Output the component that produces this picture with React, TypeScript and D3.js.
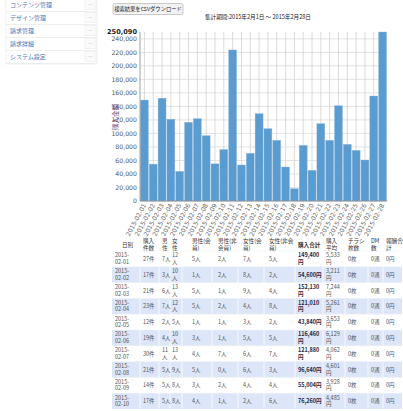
import * as d3 from "d3";

const menuItems = ["コンテンツ管理", "デザイン管理", "請求管理", "請求詳細", "システム設定"];

const days = [
  "2015-02-01", "2015-02-02", "2015-02-03", "2015-02-04", "2015-02-05", "2015-02-06", "2015-02-07",
  "2015-02-08", "2015-02-09", "2015-02-10", "2015-02-11", "2015-02-12", "2015-02-13", "2015-02-14",
  "2015-02-15", "2015-02-16", "2015-02-17", "2015-02-18", "2015-02-19", "2015-02-20", "2015-02-21",
  "2015-02-22", "2015-02-23", "2015-02-24", "2015-02-25", "2015-02-26", "2015-02-27", "2015-02-28",
];

const sales = [
  149400, 54600, 152130, 121010, 43840, 116460, 121880, 96640, 55004, 76260, 223500, 53300, 70600, 129200,
  107000, 89800, 50300, 18200, 82400, 45400, 114400, 89800, 141000, 83900, 75000, 60700, 155400, 250090,
];

const yTicks = [0, 20000, 40000, 60000, 80000, 100000, 120000, 140000, 160000, 180000, 200000, 220000, 240000];
const yMax = 250090;

const headers = [
  ["日別"], ["購入", "件数"], ["男", "性"], ["女", "性"], ["男性(会", "員)"], ["男性(非", "会員)"],
  ["女性(会", "員)"], ["女性(非会", "員)"], ["購入合計"], ["購入", "平均"], ["チラシ", "枚数"], ["DM", "数"], ["報酬合", "計"],
];

const orders = [27, 17, 21, 23, 12, 19, 30, 21, 14, 17];
const male = [7, 3, 6, 7, 2, 4, 11, 5, 5, 5];
const female = [12, 10, 13, 12, 5, 10, 13, 9, 8, 8];
const maleMember = [5, 1, 5, 5, 1, 3, 4, 5, 3, 4];
const maleGuest = [2, 2, 1, 2, 1, 1, 7, 0, 2, 1];
const femaleMember = [7, 8, 9, 4, 3, 5, 6, 6, 4, 2];
const femaleGuest = [5, 2, 4, 8, 2, 5, 7, 3, 4, 6];
const average = [5533, 3211, 7244, 5261, 3653, 6129, 4062, 4601, 3928, 4485];

const font = "'Noto Sans CJK JP', 'Noto Sans', sans-serif";
const fmt = d3.format(",");

const colX = [115, 143, 162, 172, 192, 218, 243, 269, 298, 326, 348, 371, 386];
const colEdges = [112, 140, 159, 170, 182, 212, 238, 264, 295, 323, 345, 368, 383, 402];

export default function App() {
  const x = d3.scaleBand<string>().domain(days).range([140, 387]).paddingInner(0.1).paddingOuter(0.05);
  const y = d3.scaleLinear().domain([0, yMax]).range([201, 32]);

  const rowTop = 251;
  const rowH = 15.8;

  const cellLines = (i: number): string[][] => {
    const wrap = (n: number, unit: string) => (n >= 10 ? [String(n), unit] : [n + unit]);
    const tot = sales[i];
    return [
      ["2015-", days[i].slice(5)],
      [orders[i] + "件"],
      wrap(male[i], "人"),
      wrap(female[i], "人"),
      [maleMember[i] + "人"],
      [maleGuest[i] + "人"],
      [femaleMember[i] + "人"],
      [femaleGuest[i] + "人"],
      tot >= 100000 ? [fmt(tot), "円"] : [fmt(tot) + "円"],
      [fmt(average[i]), "円"],
      ["0枚"],
      ["0通"],
      ["0円"],
    ];
  };

  return (
    <div style={{ position: "fixed", left: 0, top: 0 }}>
      <svg width={403} height={411} style={{ display: "block", fontFamily: font }}>
        <rect width={403} height={411} fill="#fff" />

        {/* side menu */}
        <rect x={6} y={-2} width={91} height={66} fill="#fff" stroke="#e4e4e4" strokeWidth={0.6} />
        {menuItems.map((m, i) => (
          <g key={m}>
            <text x={10} y={7 + i * 13} fontSize={6} fill="#4a78b8">{m}</text>
            <rect x={85} y={-0.5 + i * 13} width={11} height={10} fill="#fafafa" stroke="#e6e6e6" strokeWidth={0.5} />
            <line x1={88.5} x2={92.5} y1={4.5 + i * 13} y2={4.5 + i * 13} stroke="#ccc" strokeWidth={0.5} />
            <line x1={6} x2={97} y1={11.5 + i * 13} y2={11.5 + i * 13} stroke="#e4e4e4" strokeWidth={0.6} />
          </g>
        ))}

        {/* download button and title */}
        <rect x={113} y={3.5} width={70} height={11} rx={1.5} fill="#f2f2f2" stroke="#a8a8a8" strokeWidth={0.6} />
        <text x={148} y={11.3} fontSize={5.3} textAnchor="middle" fill="#222">検索結果をCSVダウンロード</text>
        <text x={258} y={18.5} fontSize={5.6} textAnchor="middle" fill="#222">集計期間:2015年2月1日 ～ 2015年2月28日</text>

        {/* grid */}
        {yTicks.map((t) => (
          <line key={t} x1={140} x2={387} y1={y(t)} y2={y(t)} stroke="#dcdcdc" strokeWidth={0.8} />
        ))}
        {days.map((d) => (
          <line key={d} x1={x(d)! + x.bandwidth() / 2} x2={x(d)! + x.bandwidth() / 2} y1={y(yMax)} y2={y(0)} stroke="#d2d2d2" strokeWidth={0.8} />
        ))}

        {/* bars */}
        {days.map((d, i) => (
          <rect key={d} x={x(d)} y={y(sales[i])} width={x.bandwidth()} height={y(0) - y(sales[i])} fill="#5a9bd0" stroke="#8fbbe0" strokeWidth={0.4} />
        ))}

        {/* axes */}
        <line x1={140} x2={140} y1={y(yMax)} y2={y(0)} stroke="#888" strokeWidth={0.8} />
        <line x1={140} x2={387} y1={y(0)} y2={y(0)} stroke="#888" strokeWidth={0.8} />
        {yTicks.map((t) => (
          <text key={t} x={137} y={y(t) + 2.2} fontSize={6.2} textAnchor="end" fill="#555" fontFamily="'DejaVu Sans', sans-serif">
            {fmt(t)}
          </text>
        ))}
        <text x={137} y={y(yMax) + 2.4} fontSize={6.6} textAnchor="end" fill="#222" fontWeight="bold" fontFamily="'DejaVu Sans', sans-serif">
          {fmt(yMax)}
        </text>
        <text transform={`translate(118,117) rotate(-90)`} fontSize={6.5} textAnchor="middle" fill="#6b4a80">購入金額</text>
        {days.map((d) => (
          <text
            key={d}
            transform={`translate(${x(d)! + x.bandwidth() / 2 + 2},${y(0) + 4}) rotate(-62)`}
            fontSize={6.2}
            textAnchor="end"
            fill="#666"
            fontFamily="'DejaVu Sans', sans-serif"
          >
            {d}
          </text>
        ))}

        {/* table header */}
        {headers.map((h, c) => (
          <text key={c} fontSize={5.6} fill="#333" fontWeight={c === 8 ? "bold" : "normal"}>
            {h.map((line, k) => (
              <tspan key={k} x={c === 0 ? 122 : colX[c]} y={h.length === 1 ? 247 : 243 + k * 7}>{line}</tspan>
            ))}
          </text>
        ))}

        {/* table rows */}
        {orders.map((_, i) => {
          const top = rowTop + i * rowH;
          const mid = top + rowH / 2;
          const cells = cellLines(i);
          return (
            <g key={i}>
              {i % 2 === 1 && (
                <g>
                  <rect x={112} y={top} width={290} height={rowH} fill="#dce6f8" />
                  {colEdges.slice(1, -1).map((e) => (
                    <line key={e} x1={e} x2={e} y1={top} y2={top + rowH} stroke="#fff" strokeWidth={0.8} />
                  ))}
                </g>
              )}
              <line x1={112} x2={402} y1={top} y2={top} stroke="#eef0f4" strokeWidth={0.5} />
              {cells.map((lines, c) => (
                <text key={c} fontSize={5.5} fill={c === 8 ? "#2b2540" : "#555"} fontWeight={c === 8 ? "bold" : "normal"}>
                  {lines.map((line, k) => (
                    <tspan key={k} x={colX[c]} y={lines.length === 1 ? mid + 2 : mid - 1.5 + k * 6.6}>{line}</tspan>
                  ))}
                </text>
              ))}
            </g>
          );
        })}
      </svg>
    </div>
  );
}
